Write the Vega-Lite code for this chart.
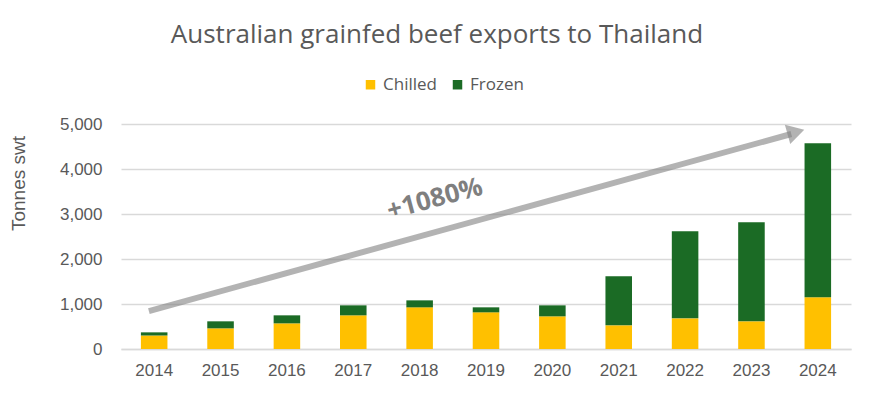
{
  "$schema": "https://vega.github.io/schema/vega-lite/v6.json",
  "autosize": "none",
  "width": 730,
  "height": 225,
  "padding": {"left": 121, "top": 124, "right": 21, "bottom": 44},
  "background": "white",
  "title": {
    "text": "Australian grainfed beef exports to Thailand",
    "font": "Open Sans",
    "fontSize": 26,
    "fontWeight": "normal",
    "color": "#595959",
    "anchor": "middle",
    "dx": -49,
    "frame": "group",
    "offset": 28
  },
  "datasets": {
    "bars": [
      {"year": "2014", "type": "Chilled", "tonnes": 300},
      {"year": "2014", "type": "Frozen", "tonnes": 70},
      {"year": "2015", "type": "Chilled", "tonnes": 459},
      {"year": "2015", "type": "Frozen", "tonnes": 156},
      {"year": "2016", "type": "Chilled", "tonnes": 570},
      {"year": "2016", "type": "Frozen", "tonnes": 178},
      {"year": "2017", "type": "Chilled", "tonnes": 748},
      {"year": "2017", "type": "Frozen", "tonnes": 222},
      {"year": "2018", "type": "Chilled", "tonnes": 926},
      {"year": "2018", "type": "Frozen", "tonnes": 155},
      {"year": "2019", "type": "Chilled", "tonnes": 815},
      {"year": "2019", "type": "Frozen", "tonnes": 111},
      {"year": "2020", "type": "Chilled", "tonnes": 726},
      {"year": "2020", "type": "Frozen", "tonnes": 244},
      {"year": "2021", "type": "Chilled", "tonnes": 526},
      {"year": "2021", "type": "Frozen", "tonnes": 1089},
      {"year": "2022", "type": "Chilled", "tonnes": 681},
      {"year": "2022", "type": "Frozen", "tonnes": 1934},
      {"year": "2023", "type": "Chilled", "tonnes": 615},
      {"year": "2023", "type": "Frozen", "tonnes": 2200},
      {"year": "2024", "type": "Chilled", "tonnes": 1148},
      {"year": "2024", "type": "Frozen", "tonnes": 3422}
    ],
    "arrow": [
      {"pos": 0.42, "value": 844},
      {"pos": 10.1, "value": 4778}
    ],
    "head": [
      {"pos": 10.17, "value": 4822}
    ],
    "label": [
      {"pos": 4.73, "value": 3333, "text": "+1080%"}
    ]
  },
  "layer": [
    {
      "data": {"name": "bars"},
      "mark": {"type": "bar"},
      "encoding": {
        "x": {
          "field": "year",
          "type": "ordinal",
          "scale": {"paddingInner": 0.6, "paddingOuter": 0.3},
          "axis": {
            "title": null,
            "labelAngle": 0,
            "labelFont": "Liberation Sans",
            "labelFontSize": 17,
            "labelColor": "#595959",
            "labelPadding": 13,
            "ticks": false,
            "domainColor": "#d9d9d9",
            "domainWidth": 1.5
          }
        },
        "y": {
          "field": "tonnes",
          "type": "quantitative",
          "stack": "zero",
          "scale": {"domain": [0, 5000]},
          "axis": {
            "title": "Tonnes swt",
            "titleFont": "Liberation Sans",
            "titleFontSize": 19,
            "titleFontWeight": "normal",
            "titleColor": "#595959",
            "titleX": -103,
            "titleY": 59,
            "titleBaseline": "middle",
            "titleAlign": "center",
            "values": [0, 1000, 2000, 3000, 4000, 5000],
            "format": ",d",
            "labelFont": "Liberation Sans",
            "labelFontSize": 17,
            "labelColor": "#595959",
            "labelPadding": 19,
            "ticks": false,
            "domain": false,
            "gridColor": "#d9d9d9",
            "gridWidth": 1.5
          }
        },
        "color": {
          "field": "type",
          "type": "nominal",
          "scale": {"domain": ["Chilled", "Frozen"], "range": ["#FFC000", "#1B6B25"]},
          "legend": {
            "title": null,
            "orient": "none",
            "direction": "horizontal",
            "legendX": 241,
            "legendY": -48,
            "symbolType": "square",
            "symbolSize": 90,
            "symbolStrokeWidth": 0,
            "labelFont": "Open Sans",
            "labelFontSize": 17,
            "labelColor": "#595959",
            "labelOffset": 4,
            "columnPadding": 12
          }
        },
        "order": {"field": "type", "sort": "ascending"}
      }
    },
    {
      "data": {"name": "arrow"},
      "mark": {"type": "line", "color": "#808080", "opacity": 0.6, "strokeWidth": 6, "strokeCap": "butt"},
      "encoding": {
        "x": {"field": "pos", "type": "quantitative", "scale": {"domain": [0, 11]}, "axis": null},
        "y": {"field": "value", "type": "quantitative"}
      }
    },
    {
      "data": {"name": "head"},
      "mark": {"type": "point", "shape": "triangle-right", "filled": true, "color": "#808080", "opacity": 0.6, "size": 400, "angle": -15.5, "strokeWidth": 0},
      "encoding": {
        "x": {"field": "pos", "type": "quantitative", "scale": {"domain": [0, 11]}, "axis": null},
        "y": {"field": "value", "type": "quantitative"}
      }
    },
    {
      "data": {"name": "label"},
      "mark": {"type": "text", "font": "Open Sans", "fontWeight": "bold", "fontSize": 26, "color": "#7f7f7f", "angle": -15, "align": "center", "baseline": "middle"},
      "encoding": {
        "x": {"field": "pos", "type": "quantitative", "scale": {"domain": [0, 11]}, "axis": null},
        "y": {"field": "value", "type": "quantitative"},
        "text": {"field": "text"}
      }
    }
  ],
  "resolve": {"scale": {"x": "independent"}},
  "config": {"view": {"stroke": null}}
}
